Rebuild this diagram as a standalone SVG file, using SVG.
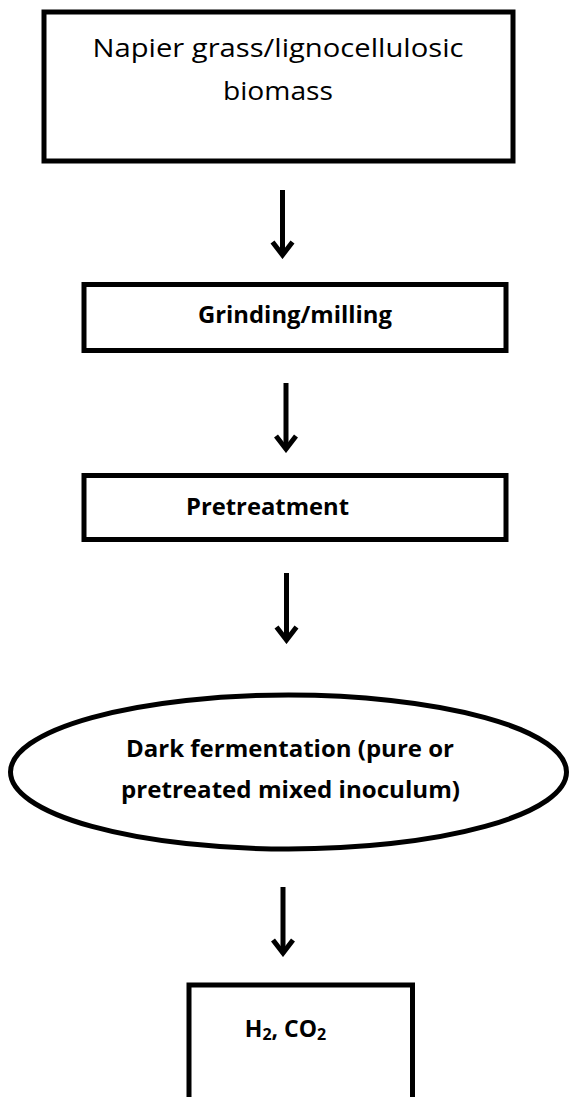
<svg xmlns="http://www.w3.org/2000/svg" width="569" height="1097" viewBox="0 0 569 1097">
<defs>
<style>
.box{fill:#fff;stroke:#000;stroke-width:5}
.t{font-family:"Open Sans","Liberation Sans",sans-serif;fill:#000;text-anchor:middle}
.b{font-weight:bold}
.c{stroke:#000;stroke-width:5;fill:none}
</style>
<marker id="arr" markerUnits="userSpaceOnUse" viewBox="-20 -15 24 30" markerWidth="24" markerHeight="30" refX="0" refY="0" orient="auto">
<path d="M -13 -10 L 0 0 L -13 10" fill="none" stroke="#000" stroke-width="5" stroke-linejoin="miter"/>
</marker>
</defs>
<rect width="569" height="1097" fill="#fff"/>
<g id="connectors">
<line class="c" x1="282.5" y1="190" x2="282.5" y2="255" marker-end="url(#arr)"/>
<line class="c" x1="286" y1="383" x2="286" y2="449" marker-end="url(#arr)"/>
<line class="c" x1="286.5" y1="573" x2="286.5" y2="640" marker-end="url(#arr)"/>
<line class="c" x1="283" y1="887" x2="283" y2="953" marker-end="url(#arr)"/>
</g>
<g id="node-biomass">
<rect class="box" x="44" y="12" width="469" height="149"/>
<text class="t" x="278" y="57" font-size="26" textLength="371" lengthAdjust="spacingAndGlyphs" fill="#111">Napier grass/lignocellulosic</text>
<text class="t" x="278" y="100" font-size="26" textLength="110" lengthAdjust="spacingAndGlyphs" fill="#111">biomass</text>
</g>
<g id="node-grinding">
<rect class="box" x="84" y="284.5" width="422" height="66"/>
<text class="t b" x="295" y="323" font-size="23" textLength="194" lengthAdjust="spacingAndGlyphs">Grinding/milling</text>
</g>
<g id="node-pretreatment">
<rect class="box" x="84" y="475.5" width="422" height="64"/>
<text class="t b" x="267.5" y="515" font-size="23" textLength="163" lengthAdjust="spacingAndGlyphs">Pretreatment</text>
</g>
<g id="node-fermentation">
<ellipse class="box" cx="288.5" cy="772" rx="278" ry="77"/>
<text class="t b" x="290" y="757" font-size="23" textLength="328" lengthAdjust="spacingAndGlyphs">Dark fermentation (pure or</text>
<text class="t b" x="290.5" y="798" font-size="23" textLength="339" lengthAdjust="spacingAndGlyphs">pretreated mixed inoculum)</text>
</g>
<g id="node-products">
<rect class="box" x="189" y="985" width="223.5" height="130"/>
<text class="t b" x="285.5" y="1037" font-size="23">H<tspan font-size="16" dy="3">2</tspan><tspan dy="-3">, CO</tspan><tspan font-size="16" dy="3">2</tspan></text>
</g>
</svg>
